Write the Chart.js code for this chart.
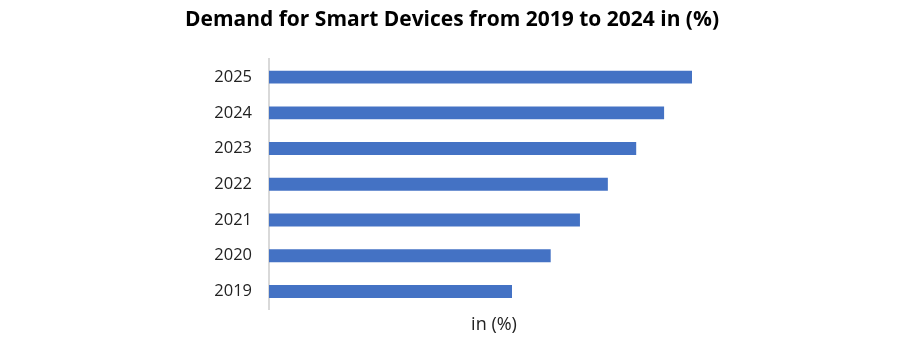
<!DOCTYPE html>
<html>
<head>
<meta charset="utf-8">
<script src="https://cdn.jsdelivr.net/npm/chart.js@4/dist/chart.umd.min.js"></script>
<style>
  html, body { margin: 0; padding: 0; background: #fff; }
  #wrap { width: 900px; height: 348px; position: relative; }
</style>
</head>
<body>
<div id="wrap"><canvas id="chart"></canvas></div>
<script>
// Demand for smart devices, horizontal bars.
const years = ['2025', '2024', '2023', '2022', '2021', '2020', '2019'];
const demand = [94.0, 87.8, 81.6, 75.3, 69.1, 62.6, 54.0];
const xMax = 100;

const BAR_COLOUR = '#4472C4';
const FONT = "'Open Sans', 'Noto Sans', sans-serif";

new Chart(document.getElementById('chart').getContext('2d'), {
    type: 'bar',
    data: {
        labels: years,
        datasets: [{
            label: 'in (%)',
            data: demand,
            backgroundColor: BAR_COLOUR,
            borderWidth: 0,
            barPercentage: 0.36,
            categoryPercentage: 1,
        }],
    },
    options: {
        indexAxis: 'y',
        responsive: true,
        maintainAspectRatio: false,
        animation: false,
        // left/right padding also keeps the title centred on the page
        layout: { padding: { left: 185, right: 181, top: 0, bottom: 6 } },
        plugins: {
            legend: { display: false },
            tooltip: { enabled: false },
            title: {
                display: true,
                text: 'Demand for Smart Devices from 2019 to 2024 in (%)',
                color: '#000',
                font: { family: FONT, size: 21, weight: 'bold' },
                padding: { top: 7, bottom: 27 },
            },
        },
        scales: {
            x: {
                min: 0,
                max: xMax,
                ticks: { display: false },
                grid: { display: false, drawTicks: false },
                border: { display: false },
                title: {
                    display: true,
                    text: 'in (%)',
                    color: '#222',
                    font: { family: FONT, size: 18 },
                    padding: { top: 5, bottom: 6 },
                },
            },
            y: {
                afterFit: (scale) => { scale.width = 84; },
                ticks: {
                    color: '#222',
                    font: { family: FONT, size: 16.5 },
                    padding: 17,
                },
                grid: { display: false, drawTicks: false },
                border: { display: true, color: '#d9d9d9', width: 2 },
            },
        },
    },
});
</script>
</body>
</html>
